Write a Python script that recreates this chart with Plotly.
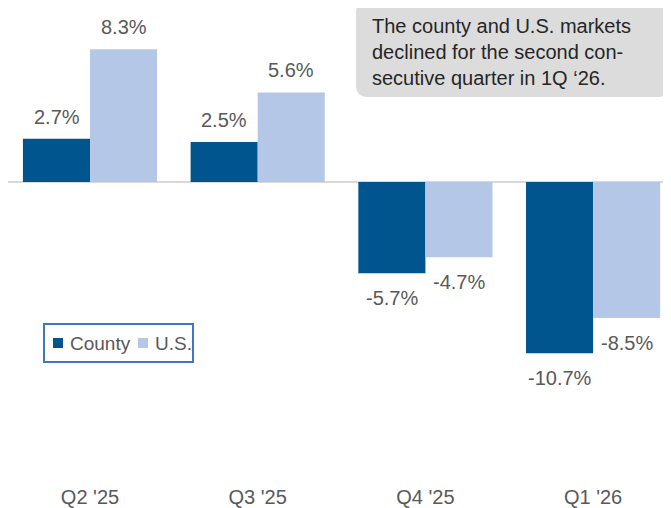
import plotly.graph_objects as go

categories = ["Q2 '25", "Q3 '25", "Q4 '25", "Q1 '26"]
county = [2.7, 2.5, -5.7, -10.7]
us = [8.3, 5.6, -4.7, -8.5]
series_names = ["County", "U.S."]
note_lines = ["The county and U.S. markets", "declined for the second con-", "secutive quarter in 1Q \u201826."]

# the page body adds an 8px offset; the figure is sized so that it fills the window
OFF = 8
W, H = 671 - OFF, 508 - OFF
L, R, T, B = 0, 0, 0, 25
PW, PH = W - L - R, H - T - B

def px(xs):  # screen px -> paper x
    return (xs - OFF - L) / PW

def py(ys):  # screen px -> paper y
    return (T + PH - (ys - OFF)) / PH

FONT = "Liberation Sans, Arial, sans-serif"
C_COUNTY = "#00558f"
C_US = "#b4c7e7"
LABEL_COLOR = "#595959"

fig = go.Figure()
fig.add_trace(go.Bar(name=series_names[0], x=categories, y=county,
                     marker=dict(color=C_COUNTY, line=dict(width=0))))
fig.add_trace(go.Bar(name=series_names[1], x=categories, y=us,
                     marker=dict(color=C_US, line=dict(width=0))))

# scales
cat_px = 167.7            # px per category
first_center = 90 - OFF   # figure px of first category center
x_lo = -first_center / cat_px
x_hi = (PW - first_center) / cat_px
zero_fig = 182 - OFF
ppu = 16.0
y_top = zero_fig / ppu
y_bot = -(PH - zero_fig) / ppu

annotations = []
offset_px = 33.5
for vals, sh in ((county, -offset_px), (us, offset_px)):
    for c, v in zip(categories, vals):
        annotations.append(dict(
            x=c, y=v, xref="x", yref="y", xshift=sh,
            yshift=22 if v >= 0 else -25,
            text=f"{v:.1f}%", showarrow=False,
            xanchor="center", yanchor="middle",
            font=dict(family=FONT, size=20, color=LABEL_COLOR)))

annotations.append(dict(
    x=px(370), y=py(13), xref="paper", yref="paper",
    xanchor="left", yanchor="top", align="left",
    text="<br>".join(note_lines), showarrow=False,
    font=dict(family=FONT, size=20, color="#262626")))

def P(a, b):
    return f"{px(a):.5f},{py(b):.5f}"

def rounded(x0, y0, x1, y1, r):
    return (f"M {P(x0+r, y0)} L {P(x1-r, y0)} Q {P(x1, y0)} {P(x1, y0+r)} "
            f"L {P(x1, y1-r)} Q {P(x1, y1)} {P(x1-r, y1)} L {P(x0+r, y1)} "
            f"Q {P(x0, y1)} {P(x0, y1-r)} L {P(x0, y0+r)} Q {P(x0, y0)} {P(x0+r, y0)} Z")

shapes = [dict(type="path", path=rounded(356, 1, 670, 97, 12), xref="paper", yref="paper",
               fillcolor="#dcdcdc", line=dict(width=0), layer="below")]

# legend drawn as a box with swatches and text
shapes.append(dict(type="rect", xref="paper", yref="paper",
                   x0=px(44), x1=px(193), y0=py(324), y1=py(362),
                   fillcolor="white", line=dict(color="#4472c4", width=2), layer="above"))
leg_items = [(series_names[0], C_COUNTY, 53, 68), (series_names[1], C_US, 138, 153)]
for name, col, sx, tx in leg_items:
    shapes.append(dict(type="rect", xref="paper", yref="paper",
                       x0=px(sx), x1=px(sx + 10), y0=py(338), y1=py(348),
                       fillcolor=col, line=dict(width=0), layer="above"))
    annotations.append(dict(x=px(tx), y=py(343), xref="paper", yref="paper",
                            xanchor="left", yanchor="middle", text=name, showarrow=False,
                            font=dict(family=FONT, size=19, color=LABEL_COLOR)))

fig.update_layout(
    width=W, height=H,
    margin=dict(l=L, r=R, t=T, b=B, pad=0),
    paper_bgcolor="white", plot_bgcolor="white",
    barmode="group", bargap=0.2, bargroupgap=0,
    showlegend=False,
    xaxis=dict(type="category", range=[x_lo, x_hi], showgrid=False, zeroline=False,
               showline=False, ticks="", tickfont=dict(family=FONT, size=20, color=LABEL_COLOR)),
    yaxis=dict(range=[y_bot, y_top], showgrid=False, showticklabels=False, ticks="",
               zeroline=True, zerolinecolor="#d9d9d9", zerolinewidth=2, showline=False),
    annotations=annotations,
    shapes=shapes,
)

fig.write_html("out.html")
